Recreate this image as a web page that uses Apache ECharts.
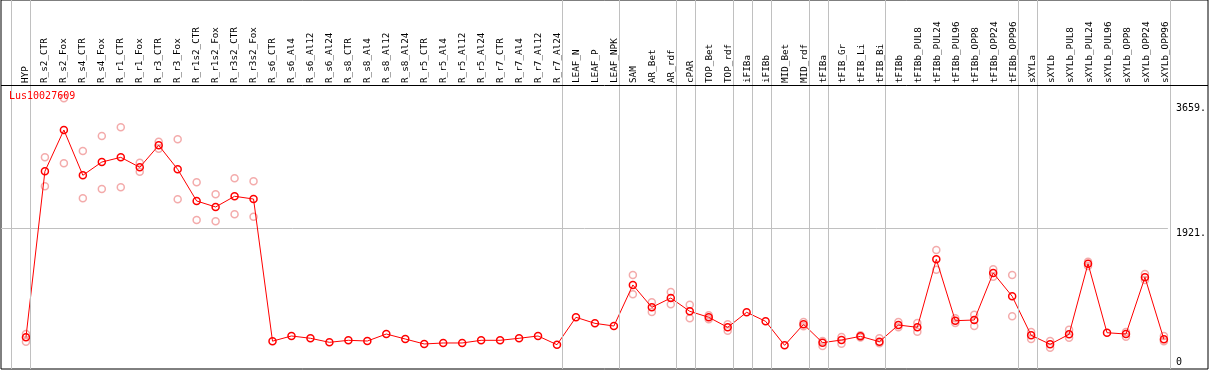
<!DOCTYPE html>
<html><head><meta charset="utf-8">
<script src="https://cdn.jsdelivr.net/npm/echarts@6/dist/echarts.min.js"></script>
<style>html,body{margin:0;padding:0;background:#fff}#c{width:1209px;height:370px}</style>
</head><body><div id="c"></div>
<script>
const geneName = 'Lus10027609';
const categories = ['HYP','R_s2_CTR','R_s2_Fox','R_s4_CTR','R_s4_Fox','R_r1_CTR','R_r1_Fox','R_r3_CTR','R_r3_Fox','R_r1s2_CTR','R_r1s2_Fox','R_r3s2_CTR','R_r3s2_Fox','R_s6_CTR','R_s6_Al4','R_s6_Al12','R_s6_Al24','R_s8_CTR','R_s8_Al4','R_s8_Al12','R_s8_Al24','R_r5_CTR','R_r5_Al4','R_r5_Al12','R_r5_Al24','R_r7_CTR','R_r7_Al4','R_r7_Al12','R_r7_Al24','LEAF_N','LEAF_P','LEAF_NPK','SAM','AR_Bet','AR_rdf','cPAR','TOP_Bet','TOP_rdf','iFIBa','iFIBb','MID_Bet','MID_rdf','tFIBa','tFIB_Gr','tFIB_Li','tFIB_Bi','tFIBb','tFIBb_PUL8','tFIBb_PUL24','tFIBb_PUL96','tFIBb_OPP8','tFIBb_OPP24','tFIBb_OPP96','sXYLa','sXYLb','sXYLb_PUL8','sXYLb_PUL24','sXYLb_PUL96','sXYLb_OPP8','sXYLb_OPP24','sXYLb_OPP96'];
const means = [412,2712,3285,2657,2841,2906,2768,3072,2740,2301,2218,2366,2328,358,430,398,342,370,360,457,388,319,333,333,370,370,398,430,309,689,605,568,1137,827,956,772,689,550,758,633,300,592,337,374,425,351,582,550,1493,642,651,1303,980,439,315,453,1432,475,457,1243,384];
const repHigh = [457,2906,3724,2994,3202,3322,2832,3123,3156,2560,2393,2615,2574,null,null,null,null,null,null,null,null,null,null,null,null,null,null,null,null,null,null,null,1275,897,1039,863,716,592,null,null,null,624,360,416,440,398,624,610,1622,675,725,1354,1275,485,360,517,1460,null,485,1289,430];
const repLow = [351,2504,2823,2338,2467,2491,2707,3026,2324,2037,2019,2116,2083,null,null,null,null,null,null,null,null,null,null,null,null,null,null,null,null,null,null,null,1007,762,869,675,661,503,null,null,null,564,291,323,410,328,550,490,1349,610,568,1252,703,388,268,406,1400,null,420,1206,356];
const groupSizes = [1,28,3,3,1,2,1,1,2,1,3,7,1,7];
const yTicks = [0,1921,3659];

// layout
const W = 1209, H = 370;
const PX = 19, X0 = 26;            // px per category, pixel of first category
const frameL = 1, frameR = 1208, plotR = 1170;
const plotTop = 103, plotBottom = 367, headerY = 85;
const xMinFrame = -(X0 - frameL) / PX;
const xMaxFrame = xMinFrame + (frameR - frameL) / PX;
const xMaxPlot = xMinFrame + (plotR - frameL) / PX;
const sepOffset = 4.5 / PX;

const seps = [];
let b = -1; seps.push(b + sepOffset);
groupSizes.forEach(s => { b += s; seps.push(b + sepOffset); });

const meanData = means.map((v, i) => [i, v]);
const repData = [];
repHigh.forEach((v, i) => { if (v != null) repData.push([i, v]); });
repLow.forEach((v, i) => { if (v != null) repData.push([i, v]); });

const mono = 'DejaVu Sans Mono';
const chart = echarts.init(document.getElementById('c'), null, {renderer: 'canvas'});
chart.setOption({
  animation: false,
  backgroundColor: '#fff',
  title: {text: geneName, left: 9, top: 91, padding: 0,
    textStyle: {color: '#ff0000', fontSize: 10, fontWeight: 'normal', fontFamily: mono}},
  grid: [
    {left: frameL, top: 0, right: W - frameR, bottom: H - 369, show: true, borderColor: '#000', borderWidth: 1, backgroundColor: 'transparent'},
    {left: frameL, top: plotTop, right: W - plotR, bottom: H - plotBottom},
    {left: X0 - PX / 2, right: W - (X0 - PX / 2 + PX * categories.length), top: headerY, height: 10}
  ],
  xAxis: [
    {gridIndex: 0, type: 'value', min: xMinFrame, max: xMaxFrame, show: false},
    {gridIndex: 1, type: 'value', min: xMinFrame, max: xMaxPlot, show: false},
    {gridIndex: 2, type: 'category', position: 'top', data: categories, boundaryGap: true,
      axisLine: {show: false}, axisTick: {show: false}, splitLine: {show: false},
      axisLabel: {rotate: 90, interval: 0, margin: 2, fontSize: 9.3, fontFamily: mono, color: '#000'}}
  ],
  yAxis: [
    {gridIndex: 0, type: 'value', min: 0, max: 369, inverse: true, show: false},
    {gridIndex: 1, type: 'value', position: 'right', min: yTicks[0], max: yTicks[2], interval: yTicks[1],
      axisLine: {show: false}, axisTick: {show: false},
      splitLine: {show: true, showMinLine: false, showMaxLine: false, lineStyle: {color: '#c0c0c0', width: 1}},
      axisLabel: {showMinLabel: false, verticalAlign: 'top', margin: 8, fontSize: 10, fontFamily: mono, color: '#000',
        formatter: v => v + '.'}},
    {gridIndex: 1, type: 'value', position: 'right', min: yTicks[0], max: yTicks[2], interval: yTicks[1],
      axisLine: {show: false}, axisTick: {show: false}, splitLine: {show: false},
      axisLabel: {verticalAlign: 'bottom', margin: 8, fontSize: 10, fontFamily: mono, color: '#000',
        formatter: v => v === 0 ? '0' : ''}},
    {gridIndex: 2, type: 'value', show: false}
  ],
  series: [
    {type: 'line', xAxisIndex: 0, yAxisIndex: 0, data: [], silent: true,
      markLine: {silent: true, symbol: 'none', label: {show: false}, animation: false,
        lineStyle: {color: '#c0c0c0', width: 1, type: 'solid'},
        data: seps.map(s => ({xAxis: s})).concat([{yAxis: headerY, lineStyle: {color: '#000', width: 1, type: 'solid'}}])}},
    {type: 'scatter', xAxisIndex: 1, yAxisIndex: 1, data: repData, clip: false, z: 2,
      symbol: 'circle', symbolSize: 7,
      itemStyle: {color: 'rgba(0,0,0,0)', borderColor: '#f09696', borderWidth: 1.5}},
    {type: 'line', xAxisIndex: 1, yAxisIndex: 1, data: meanData, clip: false, z: 3,
      symbol: 'circle', symbolSize: 7, showAllSymbol: true,
      lineStyle: {color: '#ff0000', width: 1},
      itemStyle: {color: 'rgba(0,0,0,0)', borderColor: '#ff0000', borderWidth: 1.5}}
  ]
});
</script></body></html>
